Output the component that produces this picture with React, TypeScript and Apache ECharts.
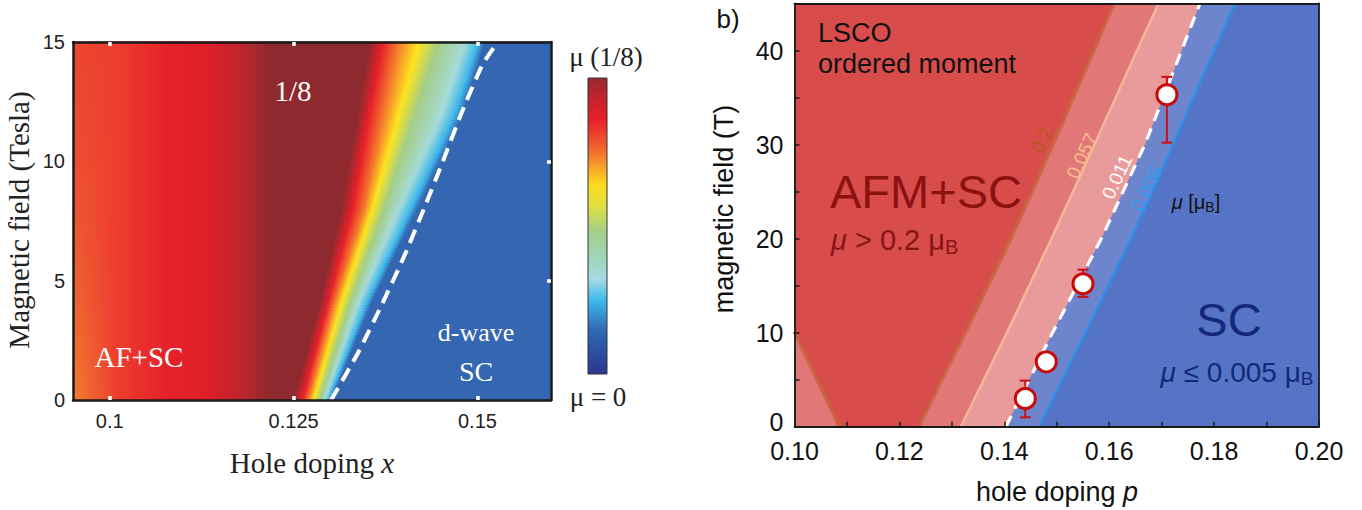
import React, { useEffect, useRef } from 'react';
import * as echarts from 'echarts';

const SANS = '"Liberation Sans", Arial, Helvetica, sans-serif';
const SERIF = '"Liberation Serif", "Times New Roman", Times, serif';

// ================= Panel (a): moment map =================
const aFieldRows = [0, 4, 8, 12, 15]; // Tesla, rows where colour stops were read
const aLeftEdgeColors = ['#F07F2E', '#EE6630', '#EC5730', '#EB4C30', '#EA4630'];
const aLeftStopX = [0.101, 0.108, 0.113, 0.118, 0.122];
const aLeftStopColors = ['#EE3D30', '#E62029', '#E02029', '#BC252D', '#8E2A2F'];
// positions (hole doping) of rainbow colour stops at each field row
const aDarkEnd = [0.1249, 0.1285, 0.1314, 0.1337, 0.1353];
const aRed = [0.1262, 0.1296, 0.133, 0.1353, 0.1371];
const aOrange = [0.127, 0.1305, 0.1346, 0.1373, 0.1393];
const aYellow = [0.1277, 0.1314, 0.1357, 0.1393, 0.142];
const aGreen = [0.1285, 0.1326, 0.1373, 0.1415, 0.1447];
const aCyan = [0.1292, 0.1337, 0.1393, 0.1451, 0.1483];
const aSky = [0.1297, 0.1348, 0.1409, 0.1469, 0.1501];
const aBlue = [0.1301, 0.1355, 0.1418, 0.1481, 0.151];
const aBandColors = ['#8E2A2F', '#E8202A', '#F47C2C', '#FCE41E', '#A3CE86', '#A6DAD9', '#3EB8EC', '#3466B1'];
// white dashed boundary
const aDashField = [0, 2, 4, 6, 8, 10, 12, 14, 14.8];
const aDashX = [0.1301, 0.1338, 0.137, 0.14, 0.1427, 0.1453, 0.1478, 0.1506, 0.1523];
const aXTicks = [0.1, 0.125, 0.15];
const aRightTicks = [5, 10];
// colour bar
const colorbarOffsets = [0, 0.07, 0.14, 0.24, 0.3, 0.36, 0.43, 0.52, 0.62, 0.68, 0.75, 0.85, 1];
const colorbarColors = ['#96292F', '#C6232D', '#E8202A', '#F1652D', '#F7A12A', '#FCDC1F', '#E2DE3F', '#A2D089', '#9FD6C0', '#A6DBE5', '#3EB9EC', '#2F6BB3', '#2B3690'];

// ================= Panel (b): contour map =================
const bField = [0, 10, 20, 30, 40, 45];
const bMu02 = [0.1236, 0.1325, 0.1412, 0.1492, 0.157, 0.1608];
const bMu057 = [0.1317, 0.1405, 0.149, 0.1572, 0.1653, 0.1694];
const bMu011 = [0.1403, 0.1492, 0.1585, 0.1668, 0.1738, 0.1773];
const bMu006 = [0.1467, 0.1555, 0.1642, 0.1722, 0.18, 0.184];
const bMu02LeftField = [0, 10.1];
const bMu02LeftX = [0.1086, 0.1];
const bDopingP = [0.144, 0.148, 0.155, 0.171];
const bFieldT = [3.0, 6.9, 15.2, 35.3];
const bErrLow = [1.0, 6.9, 13.8, 30.2];
const bErrHigh = [4.9, 6.9, 16.7, 37.2];
const bXLabels = [0.1, 0.12, 0.14, 0.16, 0.18, 0.2];
const bXTicks = [0.1, 0.11, 0.12, 0.13, 0.14, 0.15, 0.16, 0.17, 0.18, 0.19, 0.2];
const bYLabels = [0, 10, 20, 30, 40];
const bYTicks = [0, 5, 10, 15, 20, 25, 30, 35, 40, 45];

const zip = (xs: number[], ys: number[]) => xs.map((x, i) => [x, ys[i]]);

const aBandTable = [aDarkEnd, aRed, aOrange, aYellow, aGreen, aCyan, aSky, aBlue];

function renderMap(params: any, api: any) {
  const i = api.value(2);
  const cs = params.coordSys;
  const h0 = aFieldRows[i];
  const h1 = aFieldRows[i + 1];
  const n = Math.max(1, Math.round((h1 - h0) * 8));
  const children: any[] = [];
  for (let k = 0; k < n; k++) {
    const ha = h0 + ((h1 - h0) * k) / n;
    const hb = h0 + ((h1 - h0) * (k + 1)) / n;
    const t = (k + 0.5) / n;
    const yA = api.coord([0.1, ha])[1];
    const yB = api.coord([0.1, hb])[1];
    const off = (xv: number) => Math.min(1, Math.max(0, (api.coord([xv, ha])[0] - cs.x) / cs.width));
    let last = 0;
    const stops: any[] = [];
    const push = (o: number, c: string) => {
      last = Math.max(last, o);
      stops.push({ offset: last, color: c });
    };
    push(0, echarts.color.lerp(t, [aLeftEdgeColors[i], aLeftEdgeColors[i + 1]]) as string);
    aLeftStopX.forEach((x, j) => push(off(x), aLeftStopColors[j]));
    aBandTable.forEach((arr, j) => push(off(arr[i] + (arr[i + 1] - arr[i]) * t), aBandColors[j]));
    push(1, aBandColors[aBandColors.length - 1]);
    children.push({
      type: 'rect',
      shape: { x: cs.x, y: yB - 0.5, width: cs.width, height: yA - yB + 1 },
      style: { fill: new echarts.graphic.LinearGradient(0, 0, 1, 0, stops) },
    });
  }
  return { type: 'group', children };
}

const leftOf = (xs: number[], hs: number[]) => [[0.1, 0], ...zip(xs, hs), [0.1, 45]];
const bRegions = [
  { pts: [[0.1, 0], [0.2, 0], [0.2, 45], [0.1, 45]], color: '#5574C5' },
  { pts: leftOf(bMu006, bField), color: '#6C85CD' },
  { pts: leftOf(bMu011, bField), color: '#E99B9B' },
  { pts: leftOf(bMu057, bField), color: '#E27777' },
  { pts: [[0.1, 45], ...zip(bMu02LeftX, bMu02LeftField).reverse(), ...zip(bMu02, bField)], color: '#D84C4C' },
];

function renderRegion(_params: any, api: any) {
  const r = bRegions[api.value(2)];
  return {
    type: 'polygon',
    shape: { points: r.pts.map((p) => api.coord(p)) },
    style: { fill: r.color },
  };
}

function renderErr(_params: any, api: any) {
  const x = api.value(0);
  const lo = api.value(1);
  const hi = api.value(2);
  if (hi - lo <= 0) return { type: 'group', children: [] };
  const a = api.coord([x, lo]);
  const b = api.coord([x, hi]);
  const w = 5.5;
  const st = { stroke: '#C8101A', lineWidth: 2 };
  return {
    type: 'group',
    children: [
      { type: 'line', shape: { x1: a[0], y1: a[1], x2: b[0], y2: b[1] }, style: st },
      { type: 'line', shape: { x1: a[0] - w, y1: a[1], x2: a[0] + w, y2: a[1] }, style: st },
      { type: 'line', shape: { x1: b[0] - w, y1: b[1], x2: b[0] + w, y2: b[1] }, style: st },
    ],
  };
}

function txt(text: string, x: number, y: number, size: number, fill: string, family: string, o: any = {}) {
  return {
    type: 'text',
    x,
    y,
    z: 100,
    silent: true,
    rotation: o.rotation || 0,
    style: {
      text,
      fill,
      fontSize: size,
      fontFamily: family,
      fontStyle: o.fontStyle || 'normal',
      align: o.align || 'center',
      verticalAlign: 'middle',
      lineHeight: o.lineHeight,
      rich: o.rich,
    },
  };
}

function muRich(size: number, fill: string) {
  return {
    i: { fontStyle: 'italic', fontSize: size, fontFamily: SANS, fill, lineHeight: size + 4 },
    s: { fontSize: Math.round(size * 0.68), fontFamily: SANS, fill, lineHeight: Math.round(size * 0.5), verticalAlign: 'bottom' },
  };
}

function buildOption(): any {
  const aLine = { show: true, onZero: false, lineStyle: { color: '#1a1a1a', width: 2.5 } };
  const aTick = { show: true, inside: true, length: 4, customValues: aXTicks, lineStyle: { color: '#ffffff', width: 3.5 } };
  const bLine = { show: true, onZero: false, lineStyle: { color: '#1a1a1a', width: 1.8 } };
  const lbl = (size: number, margin: number, values: number[], fmt: (v: number) => string, lh: number) => ({
    show: true, customValues: values, fontFamily: SANS, fontSize: size, lineHeight: lh, color: '#111', margin, formatter: fmt,
  });
  return {
    animation: false,
    backgroundColor: '#ffffff',
    grid: [
      { left: 73, top: 42, width: 478, height: 358, containLabel: false, outerBoundsMode: 'none' },
      { left: 794.5, top: 3.5, width: 524.5, height: 423.2, containLabel: false, outerBoundsMode: 'none' },
    ],
    xAxis: [
      { gridIndex: 0, type: 'value', min: 0.095, max: 0.16, position: 'bottom', z: 10, axisLine: aLine, axisTick: aTick,
        axisLabel: { ...lbl(20, 11, aXTicks, (v) => String(v), 20), color: '#222' }, splitLine: { show: false } },
      { gridIndex: 0, type: 'value', min: 0.095, max: 0.16, position: 'top', z: 10, axisLine: aLine, axisTick: aTick,
        axisLabel: { show: false }, splitLine: { show: false } },
      { gridIndex: 1, type: 'value', min: 0.1, max: 0.2, position: 'bottom', z: 10, axisLine: bLine,
        axisTick: { show: true, inside: true, length: 5, customValues: bXTicks, lineStyle: { color: '#1a1a1a', width: 1.5 } },
        axisLabel: lbl(25, 14, bXLabels, (v) => v.toFixed(2), 20), splitLine: { show: false } },
      { gridIndex: 1, type: 'value', min: 0.1, max: 0.2, position: 'top', z: 10, axisLine: bLine,
        axisTick: { show: false }, axisLabel: { show: false }, splitLine: { show: false } },
    ],
    yAxis: [
      { gridIndex: 0, type: 'value', min: 0, max: 15, interval: 5, position: 'left', z: 10, axisLine: aLine,
        axisTick: { show: false }, axisLabel: { show: true, fontFamily: SANS, fontSize: 20, color: '#222', margin: 8 }, splitLine: { show: false } },
      { gridIndex: 0, type: 'value', min: 0, max: 15, position: 'right', z: 10, axisLine: aLine,
        axisTick: { show: true, inside: true, length: 4, customValues: aRightTicks, lineStyle: { color: '#ffffff', width: 3.5 } },
        axisLabel: { show: false }, splitLine: { show: false } },
      { gridIndex: 1, type: 'value', min: 0, max: 45, position: 'left', z: 10, axisLine: bLine,
        axisTick: { show: true, inside: true, length: 5, customValues: bYTicks, lineStyle: { color: '#1a1a1a', width: 1.5 } },
        axisLabel: {
          ...lbl(25, 11, bYLabels, (v) => (v === 0 ? '{z|0}' : String(v)), 18),
          rich: { z: { fontFamily: SANS, fontSize: 25, color: '#111', lineHeight: 18, padding: [0, 0, 9, 0] } },
        },
        splitLine: { show: false } },
      { gridIndex: 1, type: 'value', min: 0, max: 45, position: 'right', z: 10, axisLine: bLine,
        axisTick: { show: false }, axisLabel: { show: false }, splitLine: { show: false } },
    ],
    series: [
      { type: 'custom', xAxisIndex: 0, yAxisIndex: 0, z: 1, silent: true, renderItem: renderMap,
        data: aFieldRows.slice(0, -1).map((h, i) => [0.1, h, i]) },
      { type: 'line', xAxisIndex: 0, yAxisIndex: 0, z: 3, silent: true, symbol: 'none', smooth: 0.2,
        lineStyle: { color: '#ffffff', width: 4, type: [14, 8] }, data: zip(aDashX, aDashField) },
      { type: 'custom', xAxisIndex: 2, yAxisIndex: 2, z: 1, silent: true, renderItem: renderRegion,
        data: bRegions.map((_r, i) => [0.15, 20, i]) },
      { type: 'line', xAxisIndex: 2, yAxisIndex: 2, z: 2, silent: true, symbol: 'none',
        lineStyle: { color: '#C8623E', width: 4, opacity: 0.85 }, data: zip(bMu02, bField) },
      { type: 'line', xAxisIndex: 2, yAxisIndex: 2, z: 2, silent: true, symbol: 'none',
        lineStyle: { color: '#C8623E', width: 4, opacity: 0.85 }, data: zip(bMu02LeftX, bMu02LeftField) },
      { type: 'line', xAxisIndex: 2, yAxisIndex: 2, z: 2, silent: true, symbol: 'none',
        lineStyle: { color: '#F2B898', width: 2.5 }, data: zip(bMu057, bField) },
      { type: 'line', xAxisIndex: 2, yAxisIndex: 2, z: 2, silent: true, symbol: 'none',
        lineStyle: { color: '#ffffff', width: 3.2, type: [12, 8] }, data: zip(bMu011, bField) },
      { type: 'line', xAxisIndex: 2, yAxisIndex: 2, z: 2, silent: true, symbol: 'none',
        lineStyle: { color: '#2C8EEA', width: 2.5 }, data: zip(bMu006, bField) },
      { type: 'custom', xAxisIndex: 2, yAxisIndex: 2, z: 4, silent: true, renderItem: renderErr,
        encode: { x: 0, y: [1, 2] }, data: bDopingP.map((p, i) => [p, bErrLow[i], bErrHigh[i]]) },
      { type: 'scatter', xAxisIndex: 2, yAxisIndex: 2, z: 5, silent: true, symbol: 'circle', symbolSize: 20,
        itemStyle: { color: '#ffffff', borderColor: '#C80A0A', borderWidth: 3, opacity: 1 }, data: zip(bDopingP, bFieldT) },
    ],
    graphic: [
      // panel (a) texts
      txt('1/8', 293, 91, 29, '#ffffff', SERIF),
      txt('AF+SC', 139, 357, 29, '#ffffff', SERIF),
      txt('d-wave', 476, 332, 26, '#ffffff', SERIF),
      txt('SC', 476, 371, 28, '#ffffff', SERIF),
      txt('Magnetic field (Tesla)', 19, 220, 29, '#222222', SERIF, { rotation: Math.PI / 2 }),
      txt('Hole doping {i|x}', 312, 463, 29, '#222222', SERIF, {
        rich: { i: { fontStyle: 'italic', fontSize: 29, fontFamily: SERIF, fill: '#222222' } },
      }),
      {
        type: 'rect', z: 100, silent: true,
        shape: { x: 588, y: 78, width: 19, height: 296 },
        style: {
          fill: new echarts.graphic.LinearGradient(0, 0, 0, 1, colorbarOffsets.map((o, i) => ({ offset: o, color: colorbarColors[i] }))),
          stroke: '#333333', lineWidth: 1,
        },
      },
      txt('μ (1/8)', 606, 57, 27, '#222222', SERIF),
      txt('μ = 0', 598, 397, 27, '#222222', SERIF),
      // panel (b) texts
      txt('b)', 728, 19, 26, '#111111', SANS),
      txt('LSCO', 818, 33, 27, '#111111', SANS, { align: 'left' }),
      txt('ordered moment', 818, 64, 27, '#111111', SANS, { align: 'left' }),
      txt('AFM+SC', 830, 191, 47, '#8C1212', SANS, { align: 'left' }),
      txt('{i|μ} > 0.2 μ{s|B}', 831, 240, 29, '#861515', SANS, { align: 'left', lineHeight: 33, rich: muRich(29, '#861515') }),
      txt('SC', 1229, 319, 47, '#13287A', SANS),
      txt('{i|μ} ≤ 0.005 μ{s|B}', 1237, 372, 28, '#13287A', SANS, { lineHeight: 32, rich: muRich(28, '#13287A') }),
      txt('{i|μ} [μ{s|B}]', 1196, 202, 20, '#111111', SANS, { lineHeight: 24, rich: muRich(20, '#111111') }),
      txt('0.2', 1042, 140, 19, '#B8571F', SANS, { rotation: 1.13 }),
      txt('0.057', 1082, 156, 19, '#F7C08A', SANS, { rotation: 1.13 }),
      txt('0.011', 1117, 177, 19, '#ffffff', SANS, { rotation: 1.13 }),
      txt('0.006', 1147, 189, 19, '#2D9BF5', SANS, { rotation: 1.13 }),
      txt('hole doping {i|p}', 1057, 492, 27, '#111111', SANS, {
        rich: { i: { fontStyle: 'italic', fontSize: 27, fontFamily: SANS, fill: '#111111' } },
      }),
      txt('magnetic field (T)', 724, 209, 27, '#111111', SANS, { rotation: Math.PI / 2 }),
    ],
  };
}

export default function App() {
  const ref = useRef<HTMLDivElement>(null);
  useEffect(() => {
    if (!ref.current) return;
    const chart = echarts.init(ref.current, null, { renderer: 'svg' });
    chart.setOption(buildOption());
    return () => chart.dispose();
  }, []);
  return (
    <div
      ref={ref}
      style={{ position: 'fixed', left: 0, top: 0, width: 1362, height: 510, background: '#ffffff' }}
    />
  );
}
